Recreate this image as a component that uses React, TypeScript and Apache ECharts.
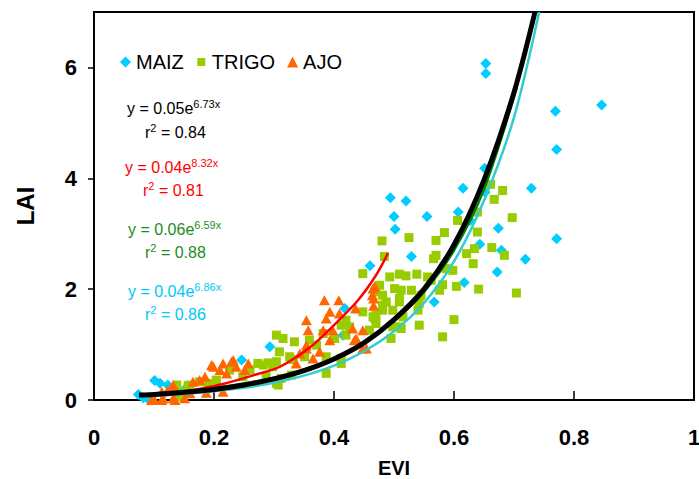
import React, { useEffect, useRef } from "react";
import * as echarts from "echarts";

// ---------- data ----------
const seriesNames = ["MAIZ", "TRIGO", "AJO"];

const maiz: number[][] = [
  [0.074, 0.1], [0.082, 0.04], [0.09, 0.02], [0.101, 0.35], [0.11, 0.3], [0.123, 0.27],
  [0.135, 0.22], [0.15, 0.18], [0.246, 0.72], [0.293, 0.96], [0.415, 1.17], [0.418, 1.65],
  [0.46, 2.42], [0.494, 3.65], [0.5, 3.31], [0.502, 3.08], [0.52, 3.59], [0.529, 2.59],
  [0.555, 3.31], [0.567, 1.77], [0.607, 3.39], [0.615, 3.82], [0.617, 2.12], [0.627, 3.24],
  [0.643, 2.81], [0.651, 4.18], [0.652, 3.75], [0.653, 5.89], [0.653, 6.07], [0.672, 2.31],
  [0.674, 3.1], [0.679, 2.7], [0.719, 2.54], [0.729, 3.82], [0.769, 5.21], [0.771, 4.52],
  [0.771, 2.91], [0.846, 5.32],
];

const trigo: number[][] = [
  [0.143, 0.06], [0.148, 0.08], [0.154, 0.15], [0.138, 0.27], [0.157, 0.26], [0.16, 0.27],
  [0.176, 0.33], [0.19, 0.3], [0.204, 0.36], [0.226, 0.54], [0.248, 0.42], [0.26, 0.54],
  [0.273, 0.66], [0.282, 0.63], [0.287, 0.42], [0.29, 0.67], [0.298, 0.6], [0.304, 1.17],
  [0.304, 0.69], [0.304, 0.3], [0.307, 0.27], [0.309, 0.87], [0.312, 0.39], [0.315, 1.11],
  [0.326, 0.78], [0.329, 0.45], [0.332, 0.73], [0.334, 1.05], [0.351, 0.78], [0.359, 1.08],
  [0.371, 0.99], [0.382, 1.2], [0.387, 0.78], [0.387, 0.48], [0.401, 1.11], [0.412, 1.35],
  [0.412, 0.75], [0.412, 0.66], [0.42, 1.44], [0.42, 1.17], [0.426, 1.32], [0.448, 1.59],
  [0.448, 2.28], [0.459, 1.26], [0.465, 1.5], [0.468, 1.47], [0.468, 1.95], [0.47, 1.53],
  [0.47, 1.38], [0.476, 2.07], [0.48, 2.87], [0.481, 1.89], [0.481, 1.71], [0.481, 1.62],
  [0.484, 2.59], [0.487, 1.77], [0.493, 2.22], [0.495, 1.11], [0.498, 1.62], [0.498, 1.32],
  [0.501, 2.01], [0.509, 2.27], [0.509, 1.83], [0.509, 1.77], [0.509, 1.32], [0.512, 1.98],
  [0.512, 1.29], [0.515, 1.5], [0.52, 2.24], [0.525, 2.93], [0.529, 1.98], [0.538, 2.27],
  [0.54, 1.62], [0.542, 1.74], [0.542, 1.35], [0.545, 1.89], [0.556, 2.22], [0.562, 2.16],
  [0.566, 2.55], [0.57, 2.88], [0.57, 2.61], [0.576, 1.98], [0.581, 2.08], [0.581, 1.14],
  [0.584, 3.02], [0.587, 2.37], [0.598, 2.34], [0.6, 1.45], [0.604, 2.05], [0.606, 3.24],
  [0.621, 2.64], [0.632, 2.46], [0.634, 2.73], [0.639, 3.39], [0.639, 3.03], [0.641, 2.0],
  [0.661, 3.89], [0.663, 2.75], [0.667, 3.62], [0.681, 3.78], [0.684, 2.61], [0.697, 3.29],
  [0.704, 1.93],
];

const ajo: number[][] = [
  [0.096, 0.0], [0.101, 0.0], [0.113, 0.0], [0.115, 0.03], [0.132, 0.03], [0.135, 0.0],
  [0.151, 0.03], [0.16, 0.12], [0.187, 0.13], [0.215, 0.15], [0.113, 0.15], [0.123, 0.18],
  [0.132, 0.24], [0.132, 0.27], [0.165, 0.33], [0.176, 0.36], [0.185, 0.42], [0.196, 0.63],
  [0.199, 0.6], [0.21, 0.54], [0.215, 0.66], [0.221, 0.48], [0.229, 0.69], [0.232, 0.72],
  [0.237, 0.6], [0.251, 0.54], [0.257, 0.66], [0.337, 0.66], [0.343, 0.84], [0.354, 0.93],
  [0.354, 0.99], [0.354, 1.44], [0.357, 1.26], [0.365, 0.75], [0.376, 0.87], [0.382, 1.26],
  [0.384, 1.8], [0.387, 1.47], [0.393, 1.59], [0.393, 1.08], [0.398, 1.26], [0.408, 1.8],
  [0.409, 1.56], [0.431, 1.29], [0.434, 1.08], [0.436, 1.65], [0.437, 1.11], [0.448, 1.26],
  [0.448, 0.93], [0.454, 0.93], [0.464, 1.89], [0.465, 2.01], [0.466, 1.83], [0.466, 1.7],
  [0.468, 2.05],
];

// fitted curves
const fitAll: number[][] = [
  [0.075, 0.09], [0.1, 0.1], [0.15, 0.14], [0.2, 0.19], [0.25, 0.27], [0.3, 0.38], [0.35, 0.53],
  [0.4, 0.74], [0.45, 1.03], [0.5, 1.45], [0.55, 2.0], [0.6, 2.8], [0.65, 3.97], [0.7, 5.55],
  [0.735, 7.0],
];
const fitAjo: number[][] = [
  [0.1, 0.09], [0.15, 0.15], [0.215, 0.29], [0.27, 0.46], [0.31, 0.6], [0.36, 0.95],
  [0.4, 1.35], [0.44, 1.8], [0.47, 2.25], [0.49, 2.65],
];
const fitTrigo: number[][] = [
  [0.08, 0.1], [0.15, 0.16], [0.2, 0.22], [0.25, 0.3], [0.3, 0.4], [0.35, 0.55], [0.4, 0.75],
  [0.45, 1.02], [0.5, 1.42], [0.55, 1.95], [0.6, 2.7], [0.65, 3.8], [0.705, 5.65],
];
const fitMaiz: number[][] = [
  [0.075, 0.07], [0.15, 0.11], [0.2, 0.16], [0.25, 0.22], [0.3, 0.31], [0.35, 0.44], [0.4, 0.62],
  [0.45, 0.88], [0.5, 1.24], [0.55, 1.75], [0.6, 2.5], [0.65, 3.6], [0.7, 5.1], [0.742, 7.0],
];

const eqBase = ["y = 0.05e", "y = 0.04e", "y = 0.06e", "y = 0.04e"];
const eqExp = ["6.73x", "8.32x", "6.59x", "6.86x"];
const eqR2 = ["0.84", "0.81", "0.88", "0.86"];

const xTicks = [0, 0.2, 0.4, 0.6, 0.8, 1];
const yTicks = [0, 2, 4, 6];

const xName = "EVI";
const yName = "LAI";

// ---------- styles ----------
const FONT = "Liberation Sans, Arial, Helvetica, sans-serif";
const eqColors = ["#000000", "#FF0000", "#1E8C1E", "#00C8F8"];
const eqPos = [
  [127, 108, 145, 132],
  [125, 167, 143, 190],
  [128, 229, 145, 252],
  [128, 291, 145, 314],
];

export default function App() {
  const ref = useRef<HTMLDivElement>(null);

  useEffect(() => {
    if (!ref.current) return;
    const chart = echarts.init(ref.current, undefined, { renderer: "svg" });

    const graphics: any[] = [];
    eqBase.forEach((b, i) => {
      const c = eqColors[i];
      const rich = {
        a: { fontSize: 16, lineHeight: 20, fill: c, fontFamily: FONT },
        s: { fontSize: 11, lineHeight: 16, verticalAlign: "top", fill: c, fontFamily: FONT },
      };
      graphics.push({
        type: "text",
        x: eqPos[i][0],
        y: eqPos[i][1],
        style: {
          text: `{a|${b}}{s|${eqExp[i]}}`,
          rich,
          fill: c,
          align: "left",
          verticalAlign: "middle",
          fontFamily: FONT,
        },
      });
      graphics.push({
        type: "text",
        x: eqPos[i][2],
        y: eqPos[i][3],
        style: {
          text: `{a|r}{s|2}{a| = ${eqR2[i]}}`,
          rich,
          fill: c,
          align: "left",
          verticalAlign: "middle",
          fontFamily: FONT,
        },
      });
    });

    const option: any = {
      animation: false,
      backgroundColor: "#ffffff",
      textStyle: { fontFamily: FONT },
      grid: {
        left: 94,
        right: 5,
        top: 12,
        bottom: 79,
        outerBoundsMode: "none",
        containLabel: false,
        show: true,
        borderColor: "#000",
        borderWidth: 2,
        backgroundColor: "transparent",
      },
      legend: {
        left: 115,
        top: 47,
        itemGap: 12,
        itemWidth: 11,
        itemHeight: 11,
        textStyle: { fontSize: 20, color: "#000", fontFamily: FONT },
        data: [
          { name: seriesNames[0], icon: "diamond" },
          { name: seriesNames[1], icon: "path://M0,0M11,11M1.5,1.5h8v8h-8z" },
          { name: seriesNames[2], icon: "triangle" },
        ],
      },
      xAxis: {
        type: "value",
        min: 0,
        max: 1,
        interval: 0.2,
        name: xName,
        nameLocation: "middle",
        nameGap: 58,
        nameTextStyle: { fontSize: 20, lineHeight: 20, fontWeight: "bold", color: "#000", fontFamily: FONT },
        axisLine: { show: true, lineStyle: { color: "#000", width: 2 } },
        axisTick: {
          show: true,
          inside: true,
          length: 9,
          lineStyle: { color: "#000", width: 1.5 },
          customValues: xTicks,
        },
        axisLabel: {
          customValues: xTicks,
          margin: 26,
          fontSize: 22,
          fontWeight: "bold",
          color: "#000",
          fontFamily: FONT,
        },
        splitLine: { show: false },
      },
      yAxis: {
        type: "value",
        min: 0,
        max: 7,
        name: yName,
        nameLocation: "middle",
        nameGap: 57,
        nameTextStyle: { fontSize: 24, fontWeight: "bold", color: "#000", fontFamily: FONT },
        axisLine: { show: true, lineStyle: { color: "#000", width: 2 } },
        axisTick: {
          show: true,
          inside: false,
          length: 6,
          lineStyle: { color: "#000", width: 1.5 },
          customValues: yTicks,
        },
        axisLabel: {
          customValues: yTicks,
          margin: 17,
          fontSize: 22,
          fontWeight: "bold",
          color: "#000",
          fontFamily: FONT,
        },
        splitLine: { show: false },
      },
      series: [
        {
          name: seriesNames[0],
          type: "scatter",
          data: maiz,
          symbol: "diamond",
          symbolSize: 11,
          itemStyle: { color: "#00CCFF", opacity: 1 },
          silent: true,
        },
        {
          name: seriesNames[1],
          type: "scatter",
          data: trigo,
          symbol: "rect",
          symbolSize: 9,
          itemStyle: { color: "#99CC00", opacity: 1 },
          silent: true,
        },
        {
          name: seriesNames[2],
          type: "scatter",
          data: ajo,
          symbol: "triangle",
          symbolSize: [11, 10],
          itemStyle: { color: "#FF6600", opacity: 1 },
          silent: true,
        },
        {
          name: "fitMaiz",
          type: "line",
          data: fitMaiz,
          showSymbol: false,
          smooth: 0.3,
          lineStyle: { color: "#33CCCC", width: 2.5 },
          silent: true,
        },
        {
          name: "fitTrigo",
          type: "line",
          data: fitTrigo,
          showSymbol: false,
          smooth: 0.3,
          lineStyle: { color: "#008000", width: 2.5 },
          silent: true,
        },
        {
          name: "fitAjo",
          type: "line",
          data: fitAjo,
          showSymbol: false,
          smooth: 0.3,
          lineStyle: { color: "#FF0000", width: 2.5 },
          silent: true,
        },
        {
          name: "fitAll",
          type: "line",
          data: fitAll,
          showSymbol: false,
          smooth: 0.3,
          lineStyle: { color: "#000000", width: 5 },
          silent: true,
        },
      ],
      graphic: graphics,
    };

    chart.setOption(option);
    return () => chart.dispose();
  }, []);

  return (
    <div
      ref={ref}
      style={{ position: "absolute", left: 0, top: 0, width: 699, height: 479, background: "#fff" }}
    />
  );
}
